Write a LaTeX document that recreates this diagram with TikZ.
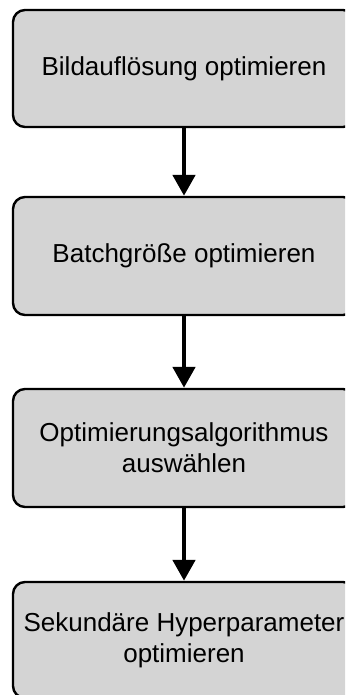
\documentclass[tikz,border=0pt]{standalone}
\usepackage{fontspec}
\setmainfont{Liberation Sans}
\usetikzlibrary{arrows.meta}
\definecolor{boxfill}{RGB}{212,212,212}
\tikzset{
  stepbox/.style={draw=black, line width=2.4pt, fill=boxfill, rounded corners=12pt,
    minimum width=342pt, align=center, inner sep=0pt,
    font=\fontsize{26}{31}\selectfont},
  flow/.style={line width=4.8pt, -{Triangle[width=22pt,length=21pt]}}
}
\begin{document}
\begin{tikzpicture}[x=1pt,y=-1pt]
  \useasboundingbox (0,0) rectangle (345,695);
  \clip (0,0) rectangle (345,695);
  \node[stepbox, minimum height=117pt] (s1) at (184,68.5) {Bildauflösung optimieren};
  \node[stepbox, minimum height=118pt] (s2) at (184,256) {Batchgröße optimieren};
  \node[stepbox, minimum height=118pt] (s3) at (184,448) {Optimierungsalgorithmus\\auswählen};
  \node[stepbox, minimum height=116pt] (s4) at (184,640) {Sekundäre Hyperparameter\\optimieren};
  \draw[flow] (s1.south) -- (s2.north);
  \draw[flow] (s2.south) -- (s3.north);
  \draw[flow] (s3.south) -- (s4.north);
\end{tikzpicture}
\end{document}
